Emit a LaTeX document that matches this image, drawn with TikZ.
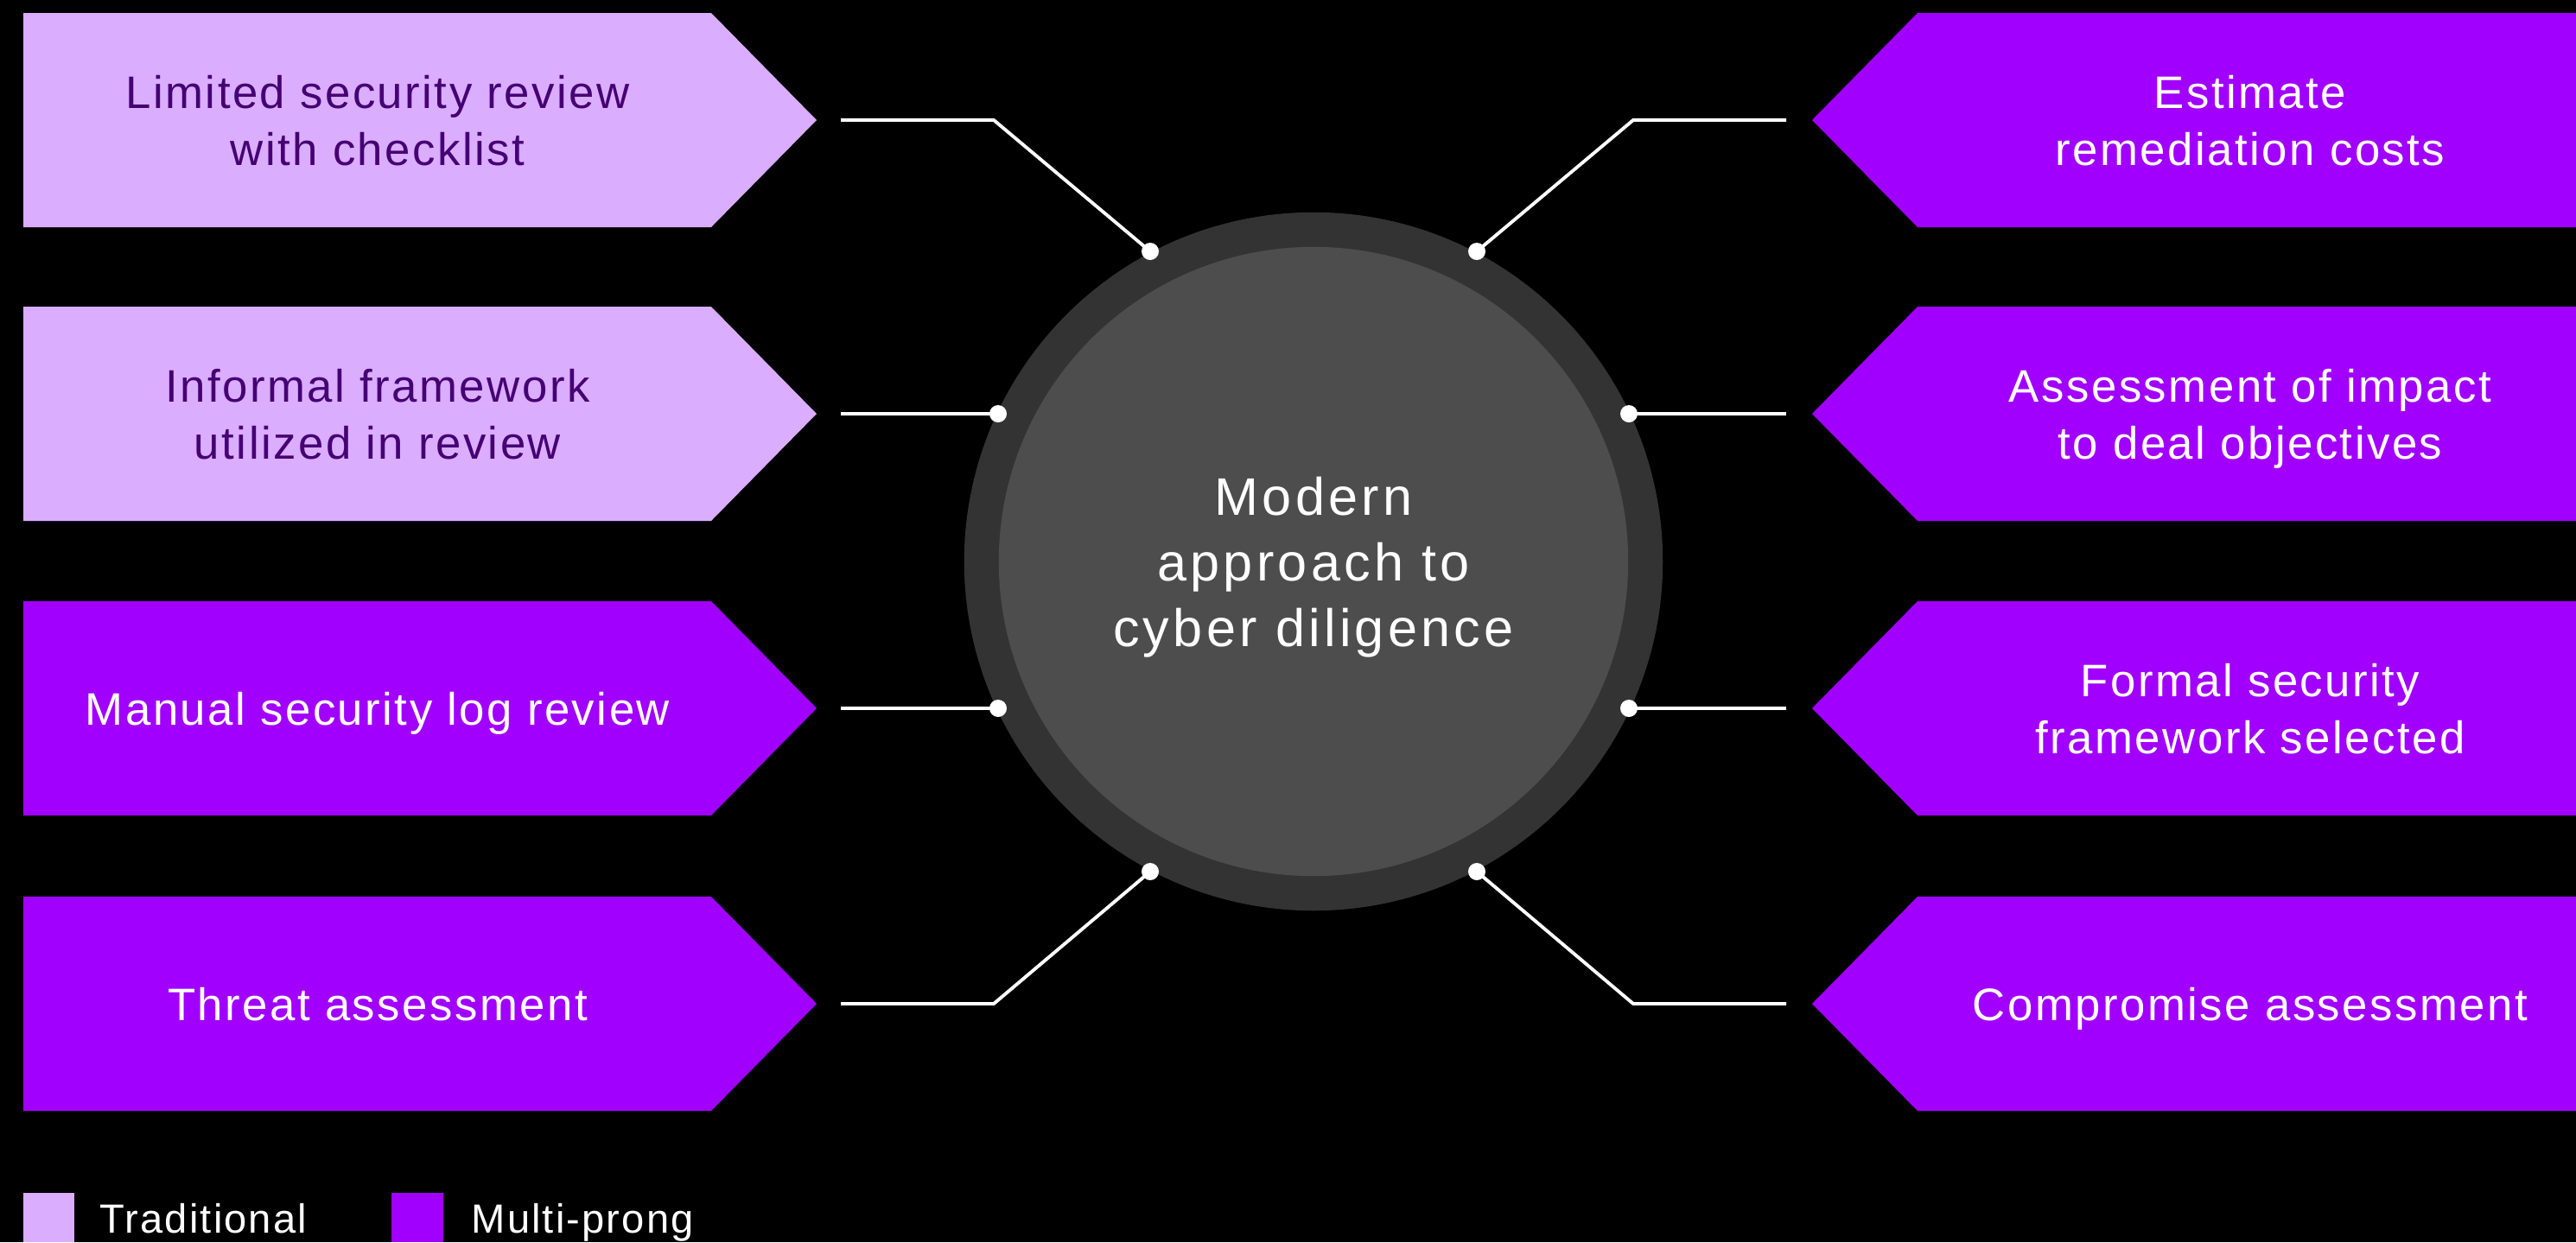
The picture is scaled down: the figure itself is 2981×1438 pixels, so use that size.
\documentclass[tikz,border=0pt]{standalone}
\usepackage{fontspec}
\setmainfont{Liberation Sans}[LetterSpace=4.7]
\newfontfamily\hubfont{Liberation Sans}[LetterSpace=7]
\newfontfamily\keyfont{Liberation Sans}[LetterSpace=4.5]
\definecolor{lav}{HTML}{DAADFF}
\definecolor{vio}{HTML}{A100FF}
\definecolor{ink}{HTML}{460073}
\definecolor{ring}{HTML}{333333}
\definecolor{core}{HTML}{4D4D4D}
% strut that balances the lines of a label around the node centre
\newcommand\midstrut{\rule[-0.23em]{0pt}{1.2em}}
\tikzset{
  boxtext/.style={align=center, inner sep=0pt, font=\fontsize{15}{18.6}\selectfont},
  litetext/.style={boxtext, text=ink},
  vivtext/.style={boxtext, text=white},
  pin/.style={circle, fill=white, inner sep=0pt, outer sep=0pt, minimum size=0.2cm},
  link/.style={draw=white, line width=1.1pt},
  legendtext/.style={anchor=base west, inner sep=0pt, text=white, font=\keyfont\fontsize{13.4}{16}\selectfont},
}
\begin{document}
\begin{tikzpicture}[x=0.01cm, y=-0.01cm]
\fill[black] (0,0) rectangle (2981,1438);
\useasboundingbox (0,0) rectangle (2981,1438);

% hub
\node[circle, fill=ring, minimum size=8.08cm, inner sep=0pt, outer sep=0pt] (hub) at (1520,650) {};
\node[circle, fill=core, minimum size=7.28cm, inner sep=0pt, align=center, text=white,
      font=\hubfont\fontsize{17.4}{21.6}\selectfont] (core) at (1520,650)
      {\midstrut Modern\\approach to\\cyber diligence\midstrut};

% left arrow boxes (pointing right)
\foreach \yc/\col in {139/lav, 479/lav, 820/vio, 1162/vio}{
  \fill[\col] (27,\yc-124) -- (823,\yc-124) -- (945,\yc) -- (823,\yc+124) -- (27,\yc+124) -- cycle;
}
% right arrow boxes (pointing left)
\foreach \yc in {139, 479, 820, 1162}{
  \fill[vio] (2981,\yc-124) -- (2219,\yc-124) -- (2097,\yc) -- (2219,\yc+124) -- (2981,\yc+124) -- cycle;
}

% box labels
\node[litetext] (l1) at (437,139) {\midstrut Limited security review\\with checklist\midstrut};
\node[litetext] (l2) at (437,479) {\midstrut Informal framework\\utilized in review\midstrut};
\node[vivtext]  (l3) at (437,820) {\midstrut Manual security log review\midstrut};
\node[vivtext]  (l4) at (437,1162) {\midstrut Threat assessment\midstrut};
\node[vivtext]  (r1) at (2604,139) {\midstrut Estimate\\remediation costs\midstrut};
\node[vivtext]  (r2) at (2604,479) {\midstrut Assessment of impact\\to deal objectives\midstrut};
\node[vivtext]  (r3) at (2604,820) {\midstrut Formal security\\framework selected\midstrut};
\node[vivtext]  (r4) at (2604,1162) {\midstrut Compromise assessment\midstrut};

% connector start points beside the arrow tips
\coordinate (sl1) at (973,139);  \coordinate (sl2) at (973,479);
\coordinate (sl3) at (973,820);  \coordinate (sl4) at (973,1162);
\coordinate (sr1) at (2067,139); \coordinate (sr2) at (2067,479);
\coordinate (sr3) at (2067,820); \coordinate (sr4) at (2067,1162);
\coordinate (bl1) at (1150,139); \coordinate (bl4) at (1150,1162);
\coordinate (br1) at (1890,139); \coordinate (br4) at (1890,1162);

% pins on the ring
\node[pin] (p1) at (1331,291) {};
\node[pin] (p2) at (1155,479) {};
\node[pin] (p3) at (1155,820) {};
\node[pin] (p4) at (1331,1009) {};
\node[pin] (q1) at (1709,291) {};
\node[pin] (q2) at (1885,479) {};
\node[pin] (q3) at (1885,820) {};
\node[pin] (q4) at (1709,1009) {};

% connectors
\draw[link] (sl1) -- (bl1) -- (p1.center);
\draw[link] (sl2) -- (p2.center);
\draw[link] (sl3) -- (p3.center);
\draw[link] (sl4) -- (bl4) -- (p4.center);
\draw[link] (sr1) -- (br1) -- (q1.center);
\draw[link] (sr2) -- (q2.center);
\draw[link] (sr3) -- (q3.center);
\draw[link] (sr4) -- (br4) -- (q4.center);

% legend
\fill[lav] (27,1381) rectangle (86,1438);
\node[legendtext] (lgA) at (115,1427) {Traditional};
\fill[vio] (453,1381) rectangle (513,1438);
\node[legendtext] (lgB) at (545,1427) {Multi-prong};
\end{tikzpicture}
\end{document}
